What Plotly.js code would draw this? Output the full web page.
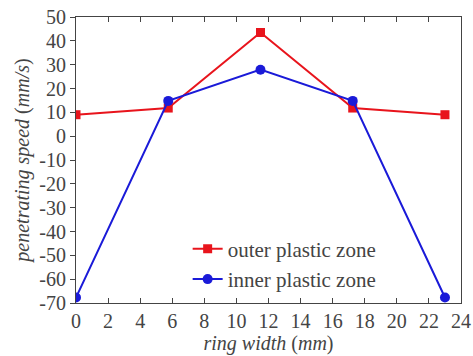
<!DOCTYPE html>
<html><head><meta charset="utf-8">
<script src="https://cdn.plot.ly/plotly-3.0.1.min.js"></script>
<style>
body{margin:0;background:#fff}
#c{width:473px;height:356px}
</style>
</head><body><div id="c"></div>
<script>
const ringWidth = [0, 5.75, 11.5, 17.25, 23];
const outerZone = [9, 11.8, 43.5, 11.8, 9];
const innerZone = [-67.7, 14.8, 27.9, 14.8, -67.7];
const xTicks = [0,2,4,6,8,10,12,14,16,18,20,22,24];
const yTicks = [-70,-60,-50,-40,-30,-20,-10,0,10,20,30,40,50];
const yTickText = ['-70','-60','-50','-40','-30','-20','-10','0','10','20','30','40','50'];
const traces = [
 {x: ringWidth, y: outerZone, name: 'outer plastic zone', mode: 'lines+markers',
  line: {color: '#e8141c', width: 2}, marker: {symbol: 'square', size: 9, color: '#e8141c'}},
 {x: ringWidth, y: innerZone, name: 'inner plastic zone', mode: 'lines+markers',
  line: {color: '#1a1ad8', width: 2}, marker: {symbol: 'circle', size: 10, color: '#1a1ad8'}}
];
const layout = {
 width: 473, height: 356, margin: {l: 76, r: 12, t: 17, b: 53},
 font: {family: 'Liberation Serif', size: 19},
 showlegend: true,
 legend: {x: 0.29, y: 0.26, xanchor: 'left', yanchor: 'top', bgcolor: 'rgba(0,0,0,0)',
   font: {family: 'Liberation Serif', size: 21}, tracegroupgap: 0},
 xaxis: {range: [0, 24], tickvals: xTicks, ticks: 'inside', ticklen: 5, tickcolor: '#444',
   showline: true, linecolor: '#444', linewidth: 1, mirror: 'ticks', showgrid: false, zeroline: false,
   tickfont: {family: 'Times New Roman', size: 20},
   title: {text: '<i>ring width</i> (<i>mm</i>)', font: {family: 'Times New Roman', size: 20}, standoff: 2}},
 yaxis: {range: [-70, 50], tickvals: yTicks, ticktext: yTickText, ticks: 'outside', ticklen: 5, tickcolor: '#444',
   showline: true, linecolor: '#444', linewidth: 1, mirror: true, showgrid: false, zeroline: false,
   tickfont: {family: 'Times New Roman', size: 20},
   title: {text: '<i>penetrating speed</i> (<i>mm/s</i>)', font: {family: 'Times New Roman', size: 20}, standoff: 4}}
};
Plotly.newPlot('c', traces, layout, {staticPlot: true});
</script></body></html>
